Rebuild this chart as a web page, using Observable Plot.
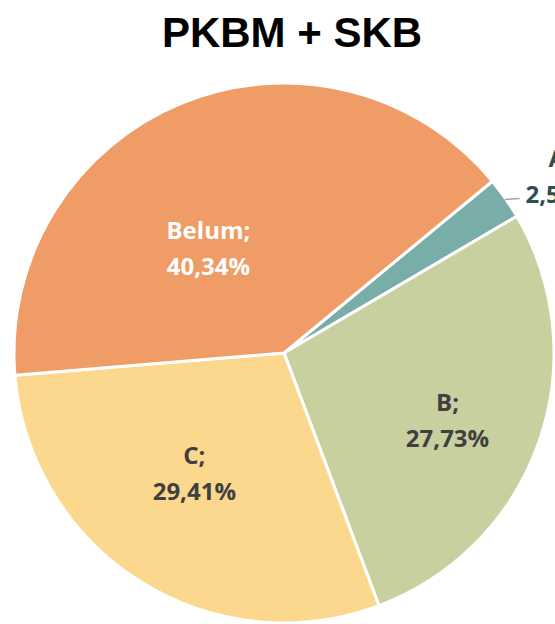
<!DOCTYPE html>
<html><head><meta charset="utf-8">
<script src="https://cdn.jsdelivr.net/npm/d3@7"></script>
<script src="https://cdn.jsdelivr.net/npm/@observablehq/plot@0.6"></script>
<style>
html,body{margin:0;padding:0;background:#fff;width:555px;height:624px;overflow:hidden;}
#title{height:66px;line-height:66px;font-family:"Liberation Sans",Arial,sans-serif;font-weight:bold;font-size:42px;color:#000;text-align:center;padding-left:29px;box-sizing:border-box;width:555px;white-space:nowrap;}
#chart svg{display:block;overflow:hidden;}
</style></head><body>
<div id="title">PKBM + SKB</div>
<div id="chart"></div>
<script>
// ---- data ----
const categories = ["A", "B", "C", "Belum"];
const values = [2.52, 27.73, 29.41, 40.34];
const valueLabels = ["2,52%", "27,73%", "29,41%", "40,34%"];

// ---- style / layout ----
const colors = ["#79ADA8", "#C9D09F", "#FCD88F", "#EF9C66"];
const textColors = ["#2E4F4B", "#404040", "#404040", "#FFFFFF"];
// label placement: radius as fraction of pie radius, angular nudge in degrees
const labelRadius = [1.22, 0.648, 0.548, 0.49];
const labelNudge = [1.8, 1.8, 5.2, -13];
const W = 555, H = 558, R = 270, CX = 284, CY = 287;
const startDeg = 50.5;

const table = categories.map((c, i) => ({category: c, value: values[i], label: valueLabels[i], color: colors[i], tcolor: textColors[i], lr: labelRadius[i], ln: labelNudge[i]}));
const start = startDeg * Math.PI / 180;
const arcs = d3.pie().sort(null).value(d => d.value).startAngle(start).endAngle(start + 2 * Math.PI)(table);

const labelData = arcs.map(a => {
  const mid = (a.startAngle + a.endAngle) / 2 + a.data.ln * Math.PI / 180;
  return {text: `${a.data.category};\n${a.data.label}`, x: a.data.lr * Math.sin(mid), y: -a.data.lr * Math.cos(mid), fill: a.data.tcolor};
});
const leaderData = arcs.filter(a => a.data.category === "A").map(a => {
  const mid = (a.startAngle + a.endAngle) / 2;
  const x1 = 0.995 * Math.sin(mid), y1 = -0.995 * Math.cos(mid);
  return {x1, y1, x2: x1 + 15 / R, y2: y1 - 1 / R};
});

function wedges(index, scales) {
  const cx = scales.x(0), cy = scales.y(0), r = scales.x(1) - scales.x(0);
  const arc = d3.arc().innerRadius(0).outerRadius(r);
  const g = d3.create("svg:g").attr("transform", `translate(${cx},${cy})`);
  g.selectAll("path").data(arcs).join("path")
    .attr("d", arc)
    .attr("fill", d => d.data.color)
    .attr("stroke", "#fff")
    .attr("stroke-width", 3)
    .attr("stroke-linejoin", "round");
  return g.node();
}

const chart = Plot.plot({
  width: W, height: H,
  margin: 0,
  x: {domain: [-CX / R, (W - CX) / R], range: [0, W], axis: null},
  y: {domain: [-CY / R, (H - CY) / R], range: [0, H], axis: null},
  style: {background: "#fff"},
  marks: [
    wedges,
    Plot.link(leaderData, {x1: "x1", y1: "y1", x2: "x2", y2: "y2", stroke: "#A6A6A6", strokeWidth: 1.5}),
    Plot.text(labelData, {x: "x", y: "y", text: "text", fill: d => d.fill, fontSize: 24, fontWeight: "bold", fontFamily: "Open Sans", lineHeight: 1.5, textAnchor: "middle", lineAnchor: "middle"})
  ]
});
document.getElementById("chart").appendChild(chart);
</script>
</body></html>
